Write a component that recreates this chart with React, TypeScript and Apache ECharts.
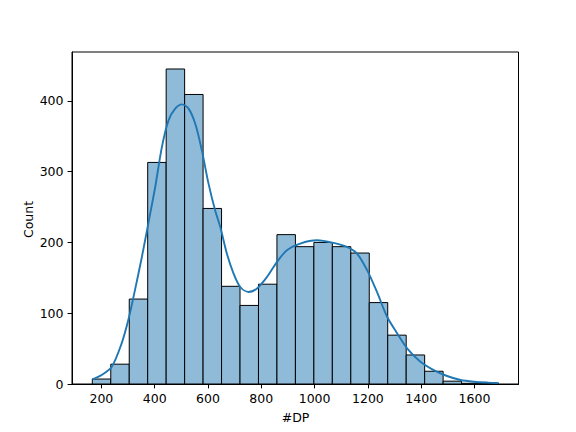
import React, { useEffect, useRef } from "react";
import * as echarts from "echarts";

// Histogram bins (equal width between data min and data max)
const binLow = 166;
const binHigh = 1690;
const binCounts = [7, 28, 120, 313, 445, 409, 248, 138, 111, 141, 211, 194, 200, 194, 185, 115, 69, 41, 18, 4, 1, 1];

// KDE curve (scaled to counts)
const kdeX = [166, 201, 239, 276, 301, 326, 352, 376, 402, 427, 452, 477, 502, 527, 552, 577, 602, 627, 646, 671, 696, 721, 752, 784, 821, 859, 896, 946, 1009, 1071, 1121, 1159, 1197, 1234, 1272, 1310, 1347, 1397, 1447, 1497, 1548, 1598, 1650, 1690];
const kdeY = [6.6, 12.7, 24.4, 57.4, 90.3, 132.6, 179.5, 226.6, 278.3, 334.7, 372.4, 388.9, 395, 389, 367.9, 330, 283, 245, 222, 184, 156, 137, 130, 135, 151, 172.5, 189, 198.4, 203, 199.3, 193.6, 184.3, 160.8, 130, 95, 71.5, 50.4, 31.5, 19.7, 11.3, 5.6, 3.2, 2.0, 1.5];

const xTicks = [200, 400, 600, 800, 1000, 1200, 1400, 1600];
const yTicks = [0, 100, 200, 300, 400];

const FONT = "DejaVu Sans";

export default function App() {
  const ref = useRef<HTMLDivElement>(null);
  useEffect(() => {
    if (!ref.current) return;
    const chart = echarts.init(ref.current, null, { renderer: "svg" });
    const w = (binHigh - binLow) / binCounts.length;
    const barData = binCounts.map((c, i) => [binLow + i * w, binLow + (i + 1) * w, c]);
    const kdeData = kdeX.map((x, i) => [x, kdeY[i]]);
    chart.setOption({
      animation: false,
      backgroundColor: "#fff",
      grid: {
        left: 72,
        right: 57.5,
        top: 52,
        bottom: 48,
        show: true,
        borderColor: "#000",
        borderWidth: 1,
        backgroundColor: "transparent",
      },
      xAxis: {
        type: "value",
        min: 89.8,
        max: 1765,
        splitLine: { show: false },
        axisLine: { show: true, onZero: false, lineStyle: { color: "#000", width: 1 } },
        axisTick: { show: true, customValues: xTicks, length: 4.4, lineStyle: { color: "#000", width: 1 } },
        axisLabel: {
          customValues: xTicks,
          formatter: (v: number) => String(v),
          fontFamily: FONT,
          fontSize: 12.5,
          color: "#000",
          margin: 8,
        },
      },
      yAxis: {
        type: "value",
        min: 0,
        max: 469,
        splitLine: { show: false },
        axisLine: { show: true, lineStyle: { color: "#000", width: 1 } },
        axisTick: { show: true, customValues: yTicks, length: 4.4, lineStyle: { color: "#000", width: 1 } },
        axisLabel: {
          customValues: yTicks,
          formatter: (v: number) => String(v),
          fontFamily: FONT,
          fontSize: 12.5,
          color: "#000",
          margin: 8.5,
        },
      },
      series: [
        {
          type: "custom",
          data: barData,
          clip: true,
          renderItem: (params: any, api: any) => {
            const p0 = api.coord([api.value(0), api.value(2)]);
            const p1 = api.coord([api.value(1), 0]);
            return {
              type: "rect",
              shape: { x: p0[0], y: p0[1], width: p1[0] - p0[0], height: p1[1] - p0[1] },
              style: { fill: "#8fbbd9", stroke: "#000", lineWidth: 1 },
            };
          },
        },
        {
          type: "line",
          data: kdeData,
          smooth: 0.3,
          showSymbol: false,
          symbol: "none",
          lineStyle: { color: "#1f77b4", width: 1.9 },
          z: 5,
        },
      ],
      graphic: [
        {
          type: "text",
          x: 295.5,
          y: 417.3,
          style: { text: "#DP", fontFamily: FONT, fontSize: 12.5, fill: "#000", align: "center", verticalAlign: "middle" },
        },
        {
          type: "text",
          x: 28,
          y: 219.5,
          rotation: Math.PI / 2,
          style: { text: "Count", fontFamily: FONT, fontSize: 12.5, fill: "#000", align: "center", verticalAlign: "middle" },
        },
      ],
    });
    return () => chart.dispose();
  }, []);
  return <div ref={ref} style={{ width: 576, height: 432, position: "absolute", left: 0, top: 0 }} />;
}
